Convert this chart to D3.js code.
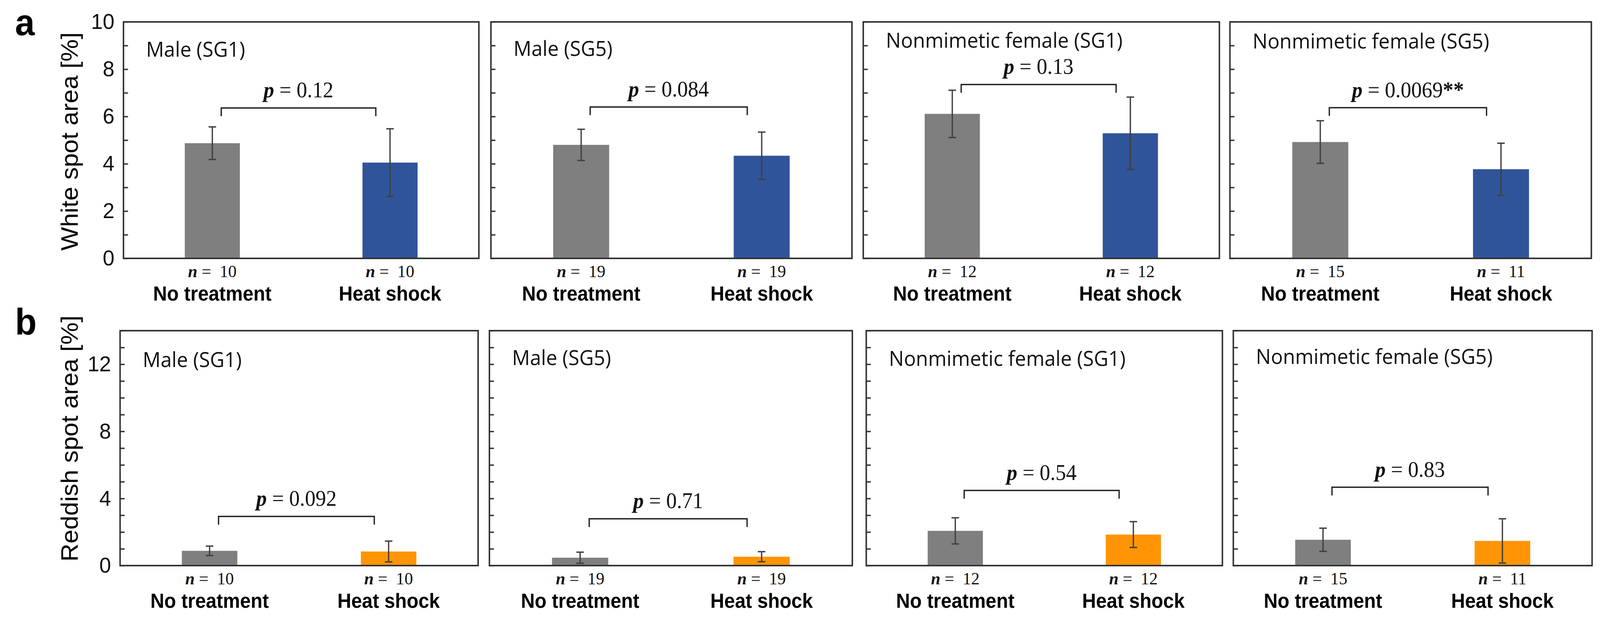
<!DOCTYPE html>
<html>
<head>
<meta charset="utf-8">
<script src="https://cdn.jsdelivr.net/npm/d3@7"></script>
<style>
  html, body { margin: 0; padding: 0; background: #fff; overflow: hidden; }
  svg { display: block; width: 100vw; height: 100vh; }
  text { font-family: "Liberation Sans", Arial, sans-serif; }
  .serif { font-family: "Liberation Serif", "Times New Roman", serif; }
  .humanist { font-family: "Open Sans", "Liberation Sans", sans-serif; }
</style>
</head>
<body>
<div id="chart"></div>
<script>
// values
const groups = ["Male (SG1)", "Male (SG5)", "Nonmimetic female (SG1)", "Nonmimetic female (SG5)"];
const treatments = ["No treatment", "Heat shock"];

const whiteMean = [[4.87, 4.05], [4.80, 4.34], [6.11, 5.29], [4.92, 3.77]];
const whiteErr  = [[0.69, 1.43], [0.66, 1.00], [1.00, 1.53], [0.90, 1.10]];
const whiteP    = ["0.12", "0.084", "0.13", "0.0069"];
const whiteStar = ["", "", "", "**"];
const whiteBracket = [6.36, 6.40, 7.35, 6.37];

const redMean = [[0.88, 0.84], [0.47, 0.53], [2.07, 1.85], [1.54, 1.47]];
const redErr  = [[0.28, 0.62], [0.33, 0.30], [0.78, 0.77], [0.69, 1.32]];
const redP    = ["0.092", "0.71", "0.54", "0.83"];
const redStar = ["", "", "", ""];
const redBracket = [2.93, 2.79, 4.48, 4.67];

const nCount = [[10, 10], [19, 19], [12, 12], [15, 11]];

const whiteTicks = d3.range(0, 11);
const whiteLabels = [0, 2, 4, 6, 8, 10];
const redTicks = d3.range(0, 15);
const redLabels = [0, 4, 8, 12];

// layout
const svg = d3.select("#chart").append("svg")
  .attr("viewBox", "0 0 4250 1599")
  .attr("preserveAspectRatio", "none");

const rows = [
  { letter: "a", ylabel: "White spot area [%]", max: 10, ticks: whiteTicks, labels: whiteLabels,
    mean: whiteMean, err: whiteErr, p: whiteP, star: whiteStar, bracket: whiteBracket,
    color: "#30549a", top: 56, bottom: 661, letterY: 90, ylabelY: 362,
    frames: [[328, 1272], [1304, 2263], [2293, 3239], [3267, 4227]],
    titleDy: [89, 87, 66, 68] },
  { letter: "b", ylabel: "Reddish spot area [%]", max: 14, ticks: redTicks, labels: redLabels,
    mean: redMean, err: redErr, p: redP, star: redStar, bracket: redBracket,
    color: "#ff9505", top: 846, bottom: 1447, letterY: 856, ylabelY: 1122,
    frames: [[319, 1270], [1300, 2264], [2301, 3247], [3276, 4229]],
    titleDy: [93, 88, 90, 85] }
];

rows.forEach(row => {
  let y = d3.scaleLinear().domain([0, row.max]).range([row.bottom, row.top]);

  svg.append("text").attr("x", 40).attr("y", row.letterY)
    .attr("font-size", 94).attr("font-weight", "bold").text(row.letter);

  svg.append("text")
    .attr("transform", `translate(206,${row.ylabelY}) rotate(-90)`)
    .attr("text-anchor", "middle").attr("font-size", 64)
    .text(row.ylabel);

  row.frames.forEach((fr, gi) => {
    let w = fr[1] - fr[0];
    let g = svg.append("g").attr("transform", `translate(${fr[0]},0)`);
    let x = d3.scalePoint().domain(treatments).range([0, w]).padding(0.5);
    let bw = w * 0.155;

    // bars
    treatments.forEach((t, ti) => {
      let v = row.mean[gi][ti];
      g.append("rect")
        .attr("x", x(t) - bw / 2).attr("width", bw)
        .attr("y", y(v)).attr("height", y(0) - y(v))
        .attr("fill", ti === 0 ? "#7f7f7f" : row.color);
    });

    // error bars
    treatments.forEach((t, ti) => {
      let v = row.mean[gi][ti], e = row.err[gi][ti];
      let cx = x(t);
      let lo = Math.max(0, v - e), hi = v + e;
      g.append("line").attr("x1", cx).attr("x2", cx).attr("y1", y(hi)).attr("y2", y(lo))
        .attr("stroke", "#404040").attr("stroke-width", 3.5);
      [hi, lo].forEach(val => {
        g.append("line").attr("x1", cx - 10).attr("x2", cx + 10)
          .attr("y1", y(val)).attr("y2", y(val))
          .attr("stroke", "#404040").attr("stroke-width", 3.5);
      });
    });

    // axis ticks inside the frame
    let axis = d3.axisLeft(y).tickValues(row.ticks).tickSizeInner(-12).tickSizeOuter(0)
      .tickPadding(24)
      .tickFormat(d => (gi === 0 && row.labels.includes(d)) ? d : "");
    let ax = g.append("g").call(axis);
    ax.select(".domain").remove();
    ax.selectAll(".tick line").attr("stroke", "#333").attr("stroke-width", 3.5);
    ax.selectAll(".tick text").attr("font-size", 56).attr("fill", "#111")
      .attr("font-family", "'Open Sans', 'Liberation Sans', sans-serif");

    // frame
    g.append("rect").attr("x", 0).attr("y", row.top).attr("width", w)
      .attr("height", row.bottom - row.top)
      .attr("fill", "none").attr("stroke", "#333").attr("stroke-width", 4);

    // panel title
    g.append("text").attr("class", "humanist")
      .attr("x", 60).attr("y", row.top + row.titleDy[gi])
      .attr("font-size", 53).attr("fill", "#111").text(groups[gi]);

    // significance bracket
    let bx1 = x(treatments[0]) + w * 0.025;
    let bx2 = x(treatments[1]) - w * 0.04;
    let by = y(row.bracket[gi]);
    g.append("path")
      .attr("d", `M${bx1},${by + 21}V${by}H${bx2}V${by + 21}`)
      .attr("fill", "none").attr("stroke", "#222").attr("stroke-width", 3.5);
    let pt = g.append("text").attr("class", "serif")
      .attr("x", (bx1 + bx2) / 2).attr("y", by - 27)
      .attr("text-anchor", "middle").attr("font-size", 56).attr("fill", "#111");
    pt.append("tspan").attr("font-style", "italic").attr("font-weight", "bold").text("p");
    pt.append("tspan").text(" = " + row.p[gi]);
    if (row.star[gi]) pt.append("tspan").attr("font-weight", "bold").text(row.star[gi]);

    // n and category labels
    treatments.forEach((t, ti) => {
      let nt = g.append("text").attr("class", "serif")
        .attr("x", x(t)).attr("y", row.bottom + 48)
        .attr("text-anchor", "middle").attr("font-size", 45).attr("fill", "#111")
        .attr("xml:space", "preserve");
      nt.append("tspan").attr("font-style", "italic").attr("font-weight", "bold").text("n");
      nt.append("tspan").text(" =  " + nCount[gi][ti]);

      g.append("text").attr("x", x(t)).attr("y", row.bottom + 108)
        .attr("text-anchor", "middle").attr("font-size", 51).attr("font-weight", "bold")
        .attr("fill", "#000").text(t);
    });
  });
});
</script>
</body>
</html>
